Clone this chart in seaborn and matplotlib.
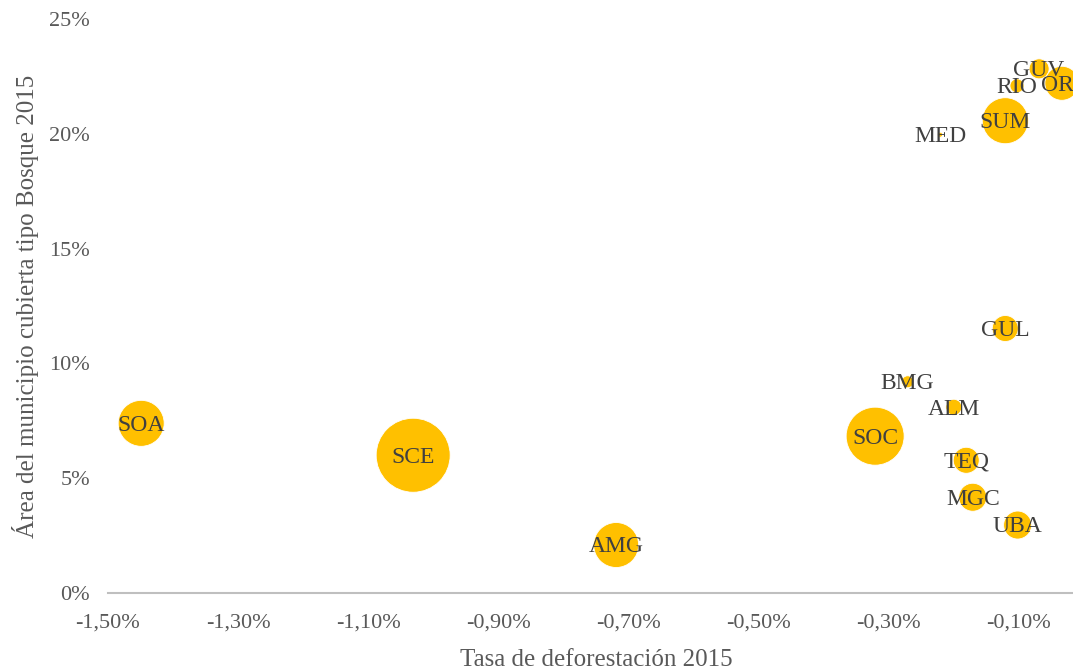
import pandas as pd
import matplotlib
matplotlib.use("Agg")
import matplotlib.pyplot as plt
import matplotlib.ticker as mticker
import seaborn as sns

# data (x, y in %)
codigos = ["SOA", "SCE", "AMG", "SOC", "BMG", "ALM", "TEQ", "MGC", "UBA",
           "GUL", "MED", "SUM", "RIO", "GUV", "ORI"]
tasa_defo = [-1.449, -1.031, -0.719, -0.321, -0.271, -0.200, -0.181, -0.171,
             -0.102, -0.121, -0.221, -0.121, -0.103, -0.069, -0.034]
area_bosque = [7.39, 6.00, 2.09, 6.83, 9.20, 8.09, 5.78, 4.17, 2.96,
               11.52, 19.96, 20.57, 22.09, 22.83, 22.20]
tamano = [529, 1369, 506, 841, 36, 64, 169, 196, 196, 169, 6, 529, 49, 100, 289]

x_ticks = [-1.5, -1.3, -1.1, -0.9, -0.7, -0.5, -0.3, -0.1]
y_ticks = [0, 5, 10, 15, 20, 25]

df = pd.DataFrame({"codigo": codigos, "x": tasa_defo, "y": area_bosque, "tam": tamano})

sns.set_style("white")
plt.rcParams["font.family"] = ["Liberation Serif", "DejaVu Serif"]

fig = plt.figure(figsize=(10.73, 6.71), dpi=100)
ax = fig.add_axes([108 / 1073, 78 / 671, 976 / 1073, 574 / 671])

s_max = (74 * 0.72) ** 2
sns.scatterplot(data=df, x="x", y="y", size="tam", sizes=(0, s_max),
                size_norm=(0, max(tamano)), color="#FFC000", edgecolor="white",
                linewidth=0.6, legend=False, ax=ax, zorder=3, clip_on=False)

for c, xv, yv in zip(codigos, tasa_defo, area_bosque):
    ax.text(xv, yv - 0.08, c, ha="center", va="center", fontsize=17,
            color="#404040", zorder=4, clip_on=False)

ax.set_xlim(-1.5, 0.0)
ax.set_ylim(0, 25)
ax.set_xticks(x_ticks)
ax.set_yticks(y_ticks)
ax.xaxis.set_major_formatter(mticker.FuncFormatter(lambda v, p: f"{v:.2f}%".replace(".", ",")))
ax.yaxis.set_major_formatter(mticker.FuncFormatter(lambda v, p: f"{v:.0f}%"))
ax.tick_params(axis="both", length=0, labelsize=16, labelcolor="#595959")
ax.tick_params(axis="x", pad=15)
ax.tick_params(axis="y", pad=13)

for side in ["top", "right", "left"]:
    ax.spines[side].set_visible(False)
ax.spines["bottom"].set_color("#BFBFBF")
ax.spines["bottom"].set_linewidth(1.5)
ax.grid(False)

ax.set_xlabel("Tasa de deforestación 2015", fontsize=18, color="#595959", labelpad=12)
ax.set_ylabel("Área del municipio cubierta tipo Bosque 2015", fontsize=18,
              color="#595959", labelpad=7)

fig.savefig("out.png", dpi=100)
plt.close(fig)
